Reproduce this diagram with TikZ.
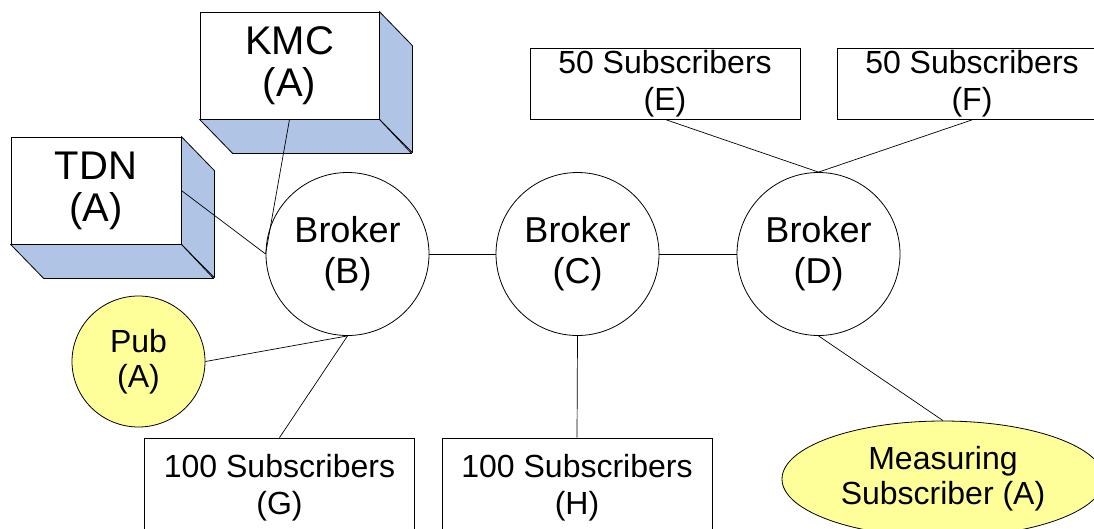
\documentclass[tikz,border=0pt]{standalone}
\usepackage{fontspec}
\setmainfont{Liberation Sans}
\usetikzlibrary{shapes.geometric}
\definecolor{sideblue}{RGB}{176,196,230}
\definecolor{clientyellow}{RGB}{255,255,153}

\begin{document}
\begin{tikzpicture}[x=1pt,y=-1pt,
  wire/.style={draw=black, line width=0.7pt},
  % invisible strut on the first line, pushes the text block slightly lower
  lowered/.style={execute at begin node={\rule{0pt}{#1}}},
  frontface/.style={draw, fill=white, line width=0.8pt, minimum width=179pt, minimum height=107pt,
    inner sep=0pt, align=center, font=\fontsize{40}{42}\selectfont, lowered=34pt},
  sideface/.style={draw, fill=sideblue, line width=0.8pt, line join=round},
  broker/.style={circle, draw, line width=0.8pt, minimum size=163pt, inner sep=0pt,
    align=center, font=\fontsize{36}{41}\selectfont, lowered=30.5pt},
  subbox/.style={draw, rectangle, line width=0.8pt, minimum width=270pt, inner sep=0pt,
    align=center, font=\fontsize{32}{37}\selectfont, lowered=28pt},
  client/.style={ellipse, draw, fill=clientyellow, line width=0.8pt, inner sep=0pt,
    align=center, font=\fontsize{32}{35}\selectfont, lowered=26.5pt}
]
\useasboundingbox (0,0) rectangle (1094,528);

% 3D boxes: front faces
\node[frontface] (kmc) at (289.5,65.5) {KMC\\(A)};
\node[frontface, minimum width=170pt] (tdn) at (96,190.5) {TDN\\(A)};

% 3D boxes: side and bottom faces
\foreach \b/\w in {kmc/179, tdn/170} {
  \path[sideface] (\b.north east) -- ++(33,34) -- ++(0,107) -- (\b.south east) -- cycle;
  \path[sideface] (\b.south west) -- ++(33,34) -- ++(\w,0) -- (\b.south east) -- cycle;
}

% brokers
\node[broker] (B) at (347.5,254) {Broker\\(B)};
\node[broker] (C) at (577.5,254) {Broker\\(C)};
\node[broker] (D) at (818.5,254) {Broker\\(D)};

% subscriber groups
\node[subbox, minimum height=71pt] (E) at (665,83.5) {50 Subscribers\\(E)};
\node[subbox, minimum height=71pt] (F) at (972,84) {50 Subscribers\\(F)};
\node[subbox, minimum height=100pt] (G) at (279.5,488) {100 Subscribers\\(G)};
\node[subbox, minimum height=100pt] (H) at (577,488) {100 Subscribers\\(H)};

% publisher and measuring subscriber
\node[client, minimum width=133pt, minimum height=131pt] (pub) at (138.5,361.5) {Pub\\(A)};
\node[client, minimum width=322pt, minimum height=116pt] (meas) at (943,479) {Measuring\\Subscriber (A)};

% connections
\draw[wire] (kmc.south) -- (B.west);
\draw[wire] (tdn.east) -- (B.west);
\draw[wire] (pub.east) -- (B.south);
\draw[wire] (G.north) -- (B.south);
\draw[wire] (B.east) -- (C.west);
\draw[wire] (C.east) -- (D.west);
\draw[wire] (C.south) -- (H.north);
\draw[wire] (E.south) -- (D.north);
\draw[wire] (F.south) -- (D.north);
\draw[wire] (D.south) -- (meas.north);
\end{tikzpicture}
\end{document}
